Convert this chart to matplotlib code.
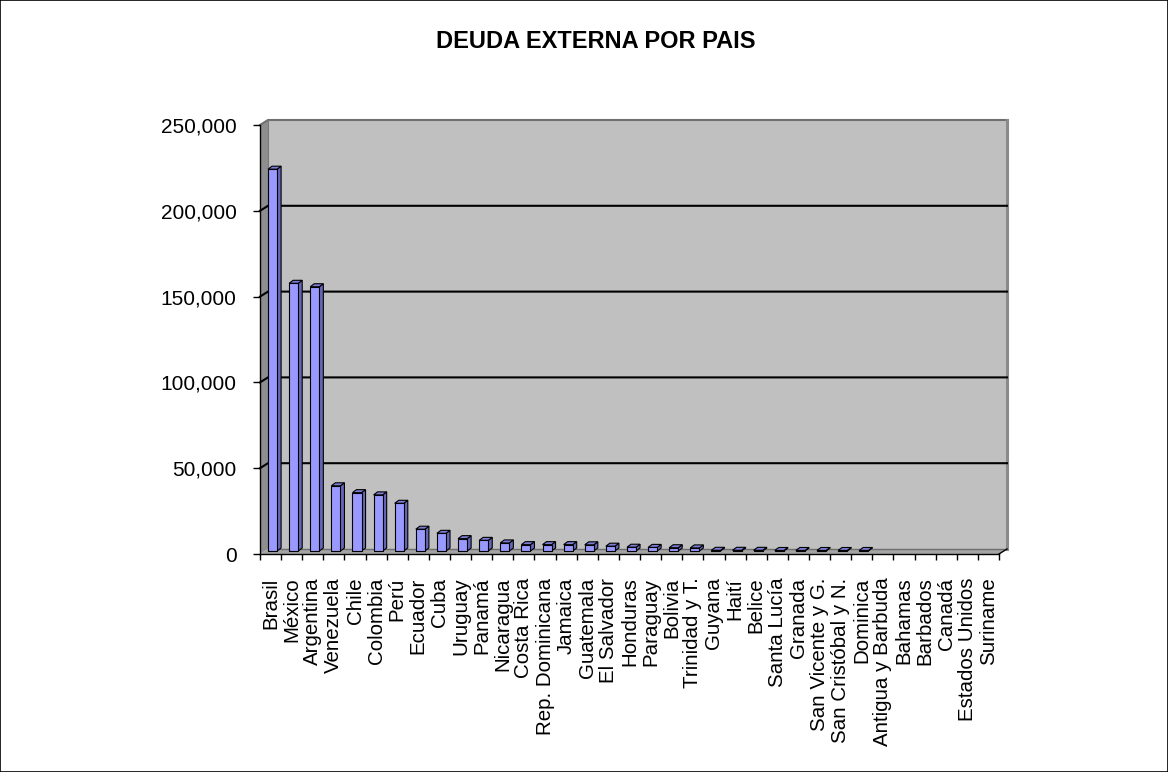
import matplotlib
matplotlib.use("Agg")
import numpy as np
import matplotlib.pyplot as plt
from matplotlib.patches import Polygon, Rectangle
from matplotlib.lines import Line2D
from matplotlib.transforms import IdentityTransform, ScaledTranslation
from matplotlib.ticker import FuncFormatter

plt.rcParams['font.family'] = ['Liberation Sans', 'DejaVu Sans']

titulo = "DEUDA EXTERNA POR PAIS"
paises = ["Brasil", "México", "Argentina", "Venezuela", "Chile", "Colombia", "Perú",
          "Ecuador", "Cuba", "Uruguay", "Panamá", "Nicaragua", "Costa Rica",
          "Rep. Dominicana", "Jamaica", "Guatemala", "El Salvador", "Honduras",
          "Paraguay", "Bolivia", "Trinidad y T.", "Guyana", "Haití", "Belice",
          "Santa Lucía", "Granada", "San Vicente y G.", "San Cristóbal y N.",
          "Dominica", "Antigua y Barbuda", "Bahamas", "Barbados", "Canadá",
          "Estados Unidos", "Suriname"]
deuda = [222500, 156000, 154000, 38000, 34000, 32700, 27800,
         12700, 10300, 7200, 6200, 4700, 3700,
         3700, 3700, 3600, 2800, 2200,
         2100, 1900, 1800, 400, 400, 400,
         300, 300, 300, 300,
         300, 0, 0, 0, 0,
         0, 0]
y_ticks = [0, 50000, 100000, 150000, 200000, 250000]

W, H = 1168, 772
fig = plt.figure(figsize=(W / 100, H / 100), dpi=100)
ax = fig.add_axes([260 / W, (H - 554) / H, (999 - 260) / W, (554 - 125) / H])
n = len(paises)
ax.set_xlim(-0.5, n - 0.5)
ax.set_ylim(0, 250000)
ax.patch.set_visible(False)

# depth offsets (display pixels, y up)
DX, DY = 8, 5
(x0, y0), (x1, y1) = ax.transAxes.transform([(0, 0), (1, 1)])
ident = IdentityTransform()

def poly(pts, fc, z, ec='none', lw=0):
    p = Polygon(pts, closed=True, facecolor=fc, edgecolor=ec, linewidth=lw,
                transform=ident, clip_on=False, zorder=z)
    ax.add_artist(p)

def line(xs, ys, c, lw, z):
    l = Line2D(xs, ys, color=c, linewidth=lw, transform=ident, clip_on=False, zorder=z)
    ax.add_artist(l)

# back wall
poly([(x0 + DX, y0 + DY), (x1 + DX, y0 + DY), (x1 + DX, y1 + DY), (x0 + DX, y1 + DY)], '#C0C0C0', 0.3)
# side wall
poly([(x0, y0), (x0 + DX, y0 + DY), (x0 + DX, y1 + DY), (x0, y1)], '#8E8E8E', 0.35)
# floor
poly([(x0, y0), (x1, y0), (x1 + DX, y0 + DY), (x0 + DX, y0 + DY)], '#A4A4A4', 0.35)
line([x0 + DX, x1 + DX], [y0 + DY, y0 + DY], '#6E6E6E', 1.0, 0.4)
# wall borders
line([x0, x0 + DX, x1 + DX], [y1, y1 + DY, y1 + DY], '#707070', 1.5, 0.45)
line([x1 + DX, x1 + DX], [y1 + DY, y0 + DY], '#8A8A8A', 2.2, 0.45)
line([x0 + DX, x0 + DX], [y1 + DY, y0 + DY], '#7A7A7A', 0.8, 0.45)

# gridlines
for v in y_ticks[1:-1]:
    yv = ax.transData.transform((0, v))[1]
    line([x0, x0 + DX, x1 + DX], [yv, yv + DY, yv + DY], 'black', 1.5, 0.5)

# floor front edge right slant
line([x1, x1 + DX], [y0, y0 + DY], 'black', 1.0, 0.6)

# bars
off = ScaledTranslation(0.02, 0.03, fig.dpi_scale_trans)
bars = ax.bar(np.arange(n), deuda, width=0.43, color='#9999FF', edgecolor='black',
              linewidth=0.8, transform=ax.transData + off, zorder=3)
BX, BY = 4, 3
for rect, v in zip(bars.patches, deuda):
    if v <= 0:
        rect.set_visible(False)
        continue
    t = rect.get_data_transform()
    (xl, yb), (xr, yt) = t.transform([(rect.get_x(), 0),
                                      (rect.get_x() + rect.get_width(), rect.get_height())])
    poly([(xr, yb), (xr + BX, yb + BY), (xr + BX, yt + BY), (xr, yt)], '#6666B8', 2.9, 'black', 0.8)
    poly([(xl, yt), (xr, yt), (xr + BX, yt + BY), (xl + BX, yt + BY)], '#7C7CD6', 2.9, 'black', 0.8)

# axes
for s in ['top', 'right']:
    ax.spines[s].set_visible(False)
for s in ['left', 'bottom']:
    ax.spines[s].set_color('black')
    ax.spines[s].set_linewidth(1.0)
    ax.spines[s].set_zorder(4)

ax.set_yticks(y_ticks)
ax.yaxis.set_major_formatter(FuncFormatter(lambda v, p: f"{v:,.0f}"))
ax.tick_params(axis='y', direction='out', length=5, width=1, pad=12, labelsize=15, colors='black')

ax.set_xticks(np.arange(-0.5, n, 1))
ax.set_xticklabels([])
ax.tick_params(axis='x', which='major', direction='out', length=4.5, width=1, colors='black')
ax.set_xticks(np.arange(n), minor=True)
ax.set_xticklabels(paises, minor=True, rotation=90, fontsize=14.8)
ax.tick_params(axis='x', which='minor', length=0, pad=17)

fig.text(596 / W, 1 - 42 / H, titulo, ha='center', va='center', fontsize=17,
         fontweight='bold')

fig.patches.append(Rectangle((0, 0), 1, 1, transform=fig.transFigure, fill=False,
                             edgecolor='black', linewidth=1.2))

fig.savefig('out.png', dpi=100)
